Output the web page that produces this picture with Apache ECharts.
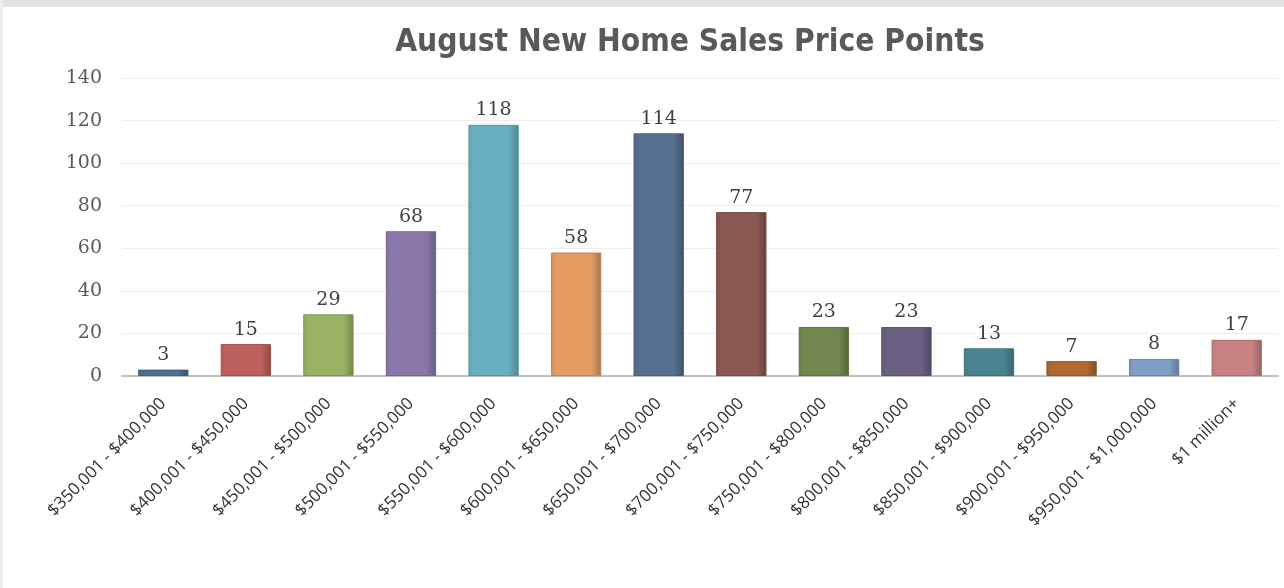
<!DOCTYPE html>
<html>
<head>
<meta charset="utf-8">
<script src="https://cdn.jsdelivr.net/npm/echarts@6/dist/echarts.min.js"></script>
<style>
html,body{margin:0;padding:0;background:#fff;}
#chart{width:1284px;height:588px;}
</style>
</head>
<body>
<div id="chart"></div>
<script>
const categories = ["$350,001 - $400,000","$400,001 - $450,000","$450,001 - $500,000","$500,001 - $550,000","$550,001 - $600,000","$600,001 - $650,000","$650,001 - $700,000","$700,001 - $750,000","$750,001 - $800,000","$800,001 - $850,000","$850,001 - $900,000","$900,001 - $950,000","$950,001 - $1,000,000","$1 million+"];
const sales = [3, 15, 29, 68, 118, 58, 114, 77, 23, 23, 13, 7, 8, 17];
const yTicks = [0, 20, 40, 60, 80, 100, 120, 140];
const barColors = ["#4f6f94","#c0605c","#9bb265","#8a78aa","#6aafc0","#e39b62","#566f8e","#8c5852","#71874f","#6b5f82","#4b8490","#b0692e","#7e9ec6","#c88282"];

function shade(hex, f){
  const n = parseInt(hex.slice(1),16);
  let r=(n>>16)&255,g=(n>>8)&255,b=n&255;
  const m = v => Math.max(0,Math.min(255,Math.round(f<0? v*(1+f) : v+(255-v)*f)));
  return "rgb("+m(r)+","+m(g)+","+m(b)+")";
}

const chart = echarts.init(document.getElementById('chart'));
chart.setOption({
  backgroundColor: '#ffffff',
  animation: false,
  graphic: [
    {type:'rect', left:0, top:0, shape:{width:1284, height:7}, style:{fill:'#e4e4e4'}, silent:true},
    {type:'rect', left:0, top:0, shape:{width:3, height:588}, style:{fill:'#eeeeee'}, silent:true}
  ],
  title: {
    text: 'August New Home Sales Price Points',
    left: 685, top: 22, textAlign: 'center',
    textStyle: {fontFamily: '"DejaVu Sans Condensed","DejaVu Sans",sans-serif', fontWeight: 'bold', fontSize: 31.5, color: '#595959'}
  },
  grid: {left: 122, right: 6, top: 78, bottom: 212},
  xAxis: {
    type: 'category',
    data: categories,
    axisLine: {lineStyle: {color: '#c0c0c0', width: 2}},
    axisTick: {show: false},
    axisLabel: {rotate: 45, interval: 0, margin: 25, fontFamily: '"Open Sans","Liberation Sans",sans-serif', fontSize: 17, color: '#333'}
  },
  yAxis: {
    type: 'value',
    min: 0, max: 140, interval: 20,
    axisLine: {show: false},
    axisTick: {show: false},
    splitLine: {lineStyle: {color: '#eeeeee', width: 1}},
    axisLabel: {margin: 20, fontFamily: '"DejaVu Serif","Liberation Serif",serif', fontSize: 19, color: '#595959',
      formatter: v => yTicks.includes(v) ? String(v) : ''}
  },
  series: [{
    type: 'bar',
    data: sales.map((v,i)=>({
      value: v,
      itemStyle: {
        color: new echarts.graphic.LinearGradient(0,0,1,0,[
          {offset:0, color: shade(barColors[i],-0.08)},
          {offset:0.1, color: barColors[i]},
          {offset:0.8, color: barColors[i]},
          {offset:1, color: shade(barColors[i],-0.25)}
        ]),
        borderColor: shade(barColors[i],-0.15),
        borderWidth: 1
      }
    })),
    barCategoryGap: '39%',
    label: {show: true, position: 'top', distance: 5, fontFamily: '"DejaVu Serif","Liberation Serif",serif', fontSize: 19, color: '#404040'}
  }]
});
</script>
</body>
</html>
